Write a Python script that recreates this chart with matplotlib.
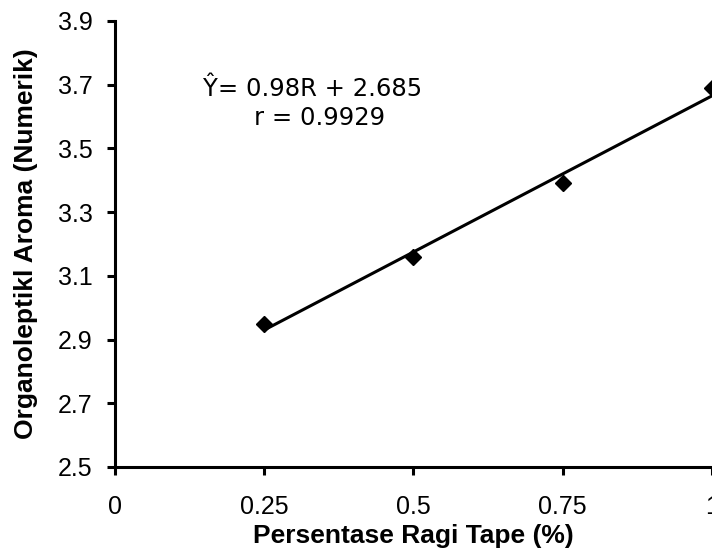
import matplotlib.pyplot as plt

# data
ragi = [0.25, 0.5, 0.75, 1.0]
aroma = [2.95, 3.16, 3.39, 3.69]
slope, intercept = 0.98, 2.685
xticks = [0, 0.25, 0.5, 0.75, 1]
xticklabels = ["0", "0.25", "0.5", "0.75", "1"]
yticks = [2.5, 2.7, 2.9, 3.1, 3.3, 3.5, 3.7, 3.9]

fig = plt.figure(figsize=(7.12, 5.52), dpi=100)
ax = fig.add_axes([0.1615, 0.154, 0.8385, 0.808])

ax.plot(ragi, aroma, linestyle="none", marker="D", color="black", markersize=8)
fit = [slope * x + intercept for x in ragi]
ax.plot([ragi[0], ragi[-1]], [fit[0], fit[-1]], color="black", linewidth=2.2)

ax.set_xlim(0, 1)
ax.set_ylim(2.5, 3.9)
ax.set_xticks(xticks)
ax.set_xticklabels(xticklabels)
ax.set_yticks(yticks)
ax.set_yticklabels([f"{v:.1f}" for v in yticks])

for s in ["top", "right"]:
    ax.spines[s].set_visible(False)
for s in ["left", "bottom"]:
    ax.spines[s].set_linewidth(2.2)
ax.tick_params(direction="out", length=6, width=2.2, labelsize=18)
ax.tick_params(axis="x", pad=14)
ax.tick_params(axis="y", pad=10)
for lbl in ax.get_xticklabels() + ax.get_yticklabels():
    lbl.set_family("Liberation Sans")

ax.set_xlabel("Persentase Ragi Tape (%)", fontsize=19, fontweight="bold",
              family="Liberation Sans", labelpad=4)
ax.set_ylabel("Organoleptikl Aroma (Numerik)", fontsize=19, fontweight="bold",
              family="Liberation Sans", labelpad=14)

ax.text(0.147, 3.688, "Ŷ= 0.98R + 2.685", fontsize=17.5, family="DejaVu Sans",
        va="center", ha="left")
ax.text(0.233, 3.595, "r = 0.9929", fontsize=17.5, family="DejaVu Sans",
        va="center", ha="left")

fig.savefig("out.png", dpi=100)
